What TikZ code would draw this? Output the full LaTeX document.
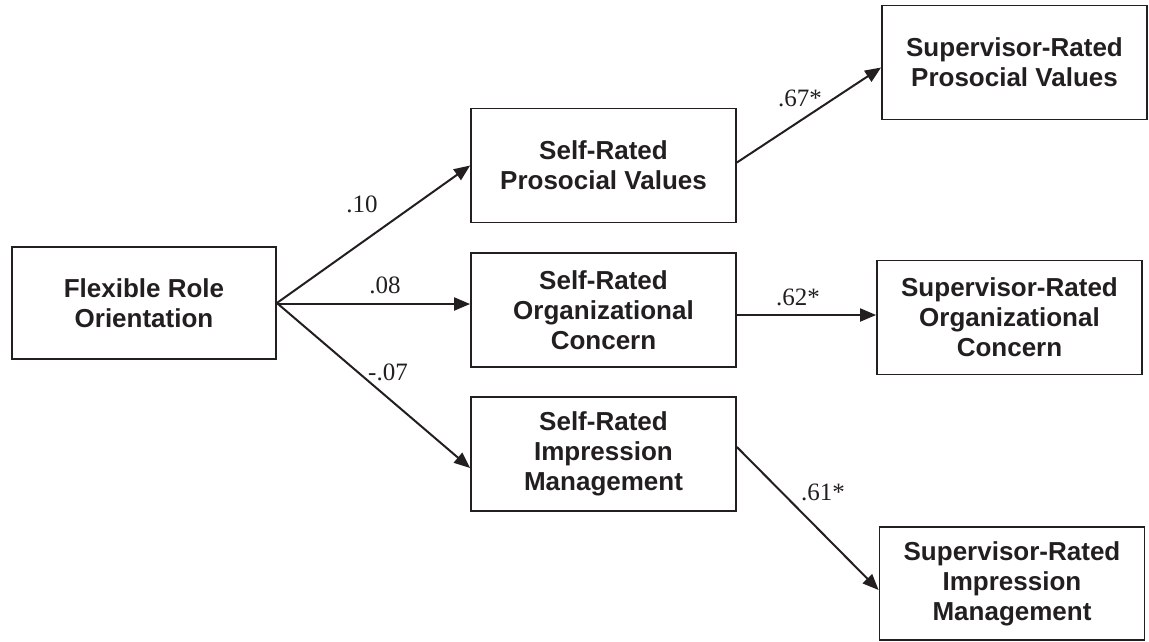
\documentclass[tikz,border=0pt]{standalone}
\usepackage{fontspec}
\setmainfont{Liberation Serif}
\newfontfamily\boxfont{Liberation Sans}
\usetikzlibrary{arrows.meta}
\definecolor{ink}{RGB}{35,31,32}
\begin{document}
\begin{tikzpicture}[x=1pt,y=-1pt,
  box/.style={draw=ink, text=ink, line width=1.8pt, inner sep=0pt,
    minimum width=265pt, minimum height=114pt, align=center,
    font=\boxfont\bfseries\fontsize{26}{30}\selectfont},
  link/.style={draw=ink, line width=2pt, -{Triangle[length=16pt,width=13pt]}},
  coef/.style={text=ink, inner sep=0pt, font=\fontsize{25}{28}\selectfont}]
\useasboundingbox (0,0) rectangle (1149,641);

% predictor
\node[box, minimum width=264pt, minimum height=112pt] (flex) at (144,303) {Flexible Role\\Orientation};

% self-rated motives
\node[box] (spv) at (603.5,165.5) {Self-Rated\\Prosocial Values};
\node[box] (soc) at (603.5,310) {Self-Rated\\Organizational\\Concern};
\node[box] (sim) at (603.5,454) {Self-Rated\\Impression\\Management};

% supervisor-rated motives
\node[box] (suppv) at (1014.5,62.5) {Supervisor-Rated\\Prosocial Values};
\node[box] (supoc) at (1009.5,317.5) {Supervisor-Rated\\Organizational\\Concern};
\node[box, minimum height=113pt] (supim) at (1012,583.5) {Supervisor-Rated\\Impression\\Management};

% paths from the predictor
\draw[link] (flex.east) -- (spv.west);
\draw[link] ([yshift=-1pt]flex.east) -- ([yshift=-1pt]flex.east -| soc.west);
\draw[link] (flex.east) -- ([yshift=-14pt]sim.west);

% self-rated to supervisor-rated
\draw[link] ([yshift=3pt]spv.east) -- ([yshift=-5pt]suppv.west);
\draw[link] ([yshift=-5pt]soc.east) -- ([yshift=-5pt]soc.east -| supoc.west);
\draw[link] ([yshift=7pt]sim.east) -- ([yshift=-6.5pt]supim.west);

% path coefficients
\node[coef] (c1) at (362,204) {.10};
\node[coef] (c2) at (385,285) {.08};
\node[coef] (c3) at (388,372) {-.07};
\node[coef] (c4) at (800,98) {.67*};
\node[coef] (c5) at (798,297) {.62*};
\node[coef] (c6) at (823,492) {.61*};
\end{tikzpicture}
\end{document}
